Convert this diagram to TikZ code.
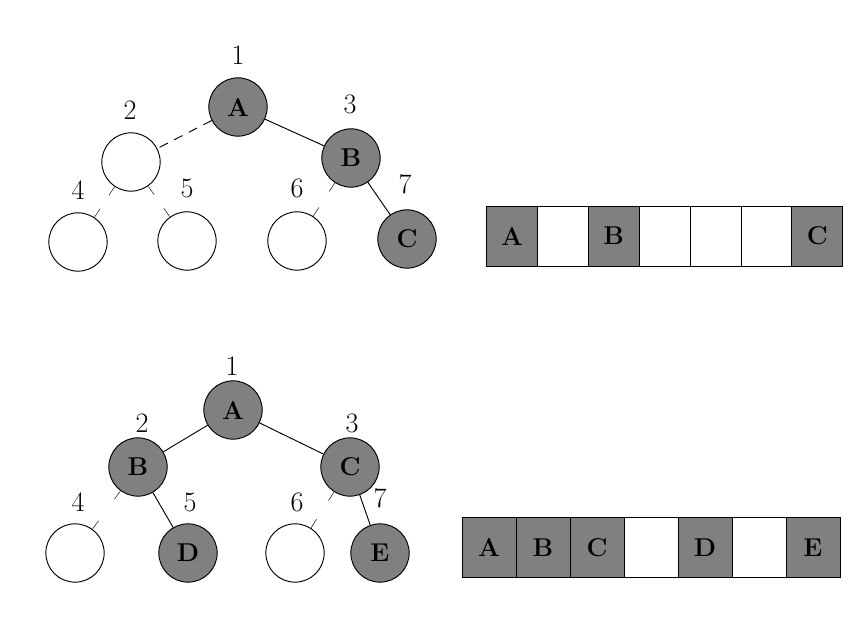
\documentclass[tikz,border=0pt]{standalone}
\usetikzlibrary{calc}
\newcommand\stub[2]{%
  \draw ($(#1)!0.9cm!(#2)$) -- ($(#1)!1.2cm!(#2)$);
  \draw ($(#2)!0.9cm!(#1)$) -- ($(#2)!1.2cm!(#1)$);}
\begin{document}
\begin{tikzpicture}[x=0.03cm,y=-0.03cm,
    knoop/.style={circle, draw, thick, minimum size=1.75cm, inner sep=0pt, font=\fontsize{22}{24}\selectfont\bfseries},
    vol/.style={fill=black!50},
    cel/.style={draw, thick, minimum height=1.8cm, minimum width=1.53cm, inner sep=0pt, font=\fontsize{22}{24}\selectfont\bfseries},
    num/.style={font=\fontsize{24}{26}\selectfont}
    ]
\useasboundingbox (0,0) rectangle (858,628);

% upper tree
\node[knoop,vol] (a1) at (238,107) {A};
\node[knoop] (e2) at (131,162) {};
\node[knoop,vol] (b1) at (351,158) {B};
\node[knoop] (e4) at (78,242) {};
\node[knoop] (e5) at (187,241) {};
\node[knoop] (e6) at (297,241) {};
\node[knoop,vol] (c1) at (407,239) {C};
\draw[thick, dashed, dash pattern=on 8pt off 6pt] (a1) -- (e2);
\draw[thick] (a1) -- (b1);
\draw[thick] (b1) -- (c1);
\stub{e2}{e4}
\stub{e2}{e5}
\stub{b1}{e6}
\foreach \t/\x/\y in {1/238/55, 2/130/110, 3/350/104, 4/78/190, 5/187/188, 6/297/188, 7/405/184}
  \node[num] (u\t) at (\x,\y) {\t};

% upper array
\foreach \l [count=\i from 0] in {A,,B,,,,C} {
  \ifx\l\empty
    \node[cel] (ur\i) at (512+50.9*\i,236) {};
  \else
    \node[cel,vol] (ur\i) at (512+50.9*\i,236) {\l};
  \fi
}

% lower tree
\node[knoop,vol] (a2) at (233,410) {A};
\node[knoop,vol] (b2) at (138,467) {B};
\node[knoop,vol] (c2) at (350,467) {C};
\node[knoop] (f4) at (75,553) {};
\node[knoop,vol] (d2) at (188,553) {D};
\node[knoop] (f6) at (295,553) {};
\node[knoop,vol] (e2b) at (380,553) {E};
\draw[thick] (a2) -- (b2);
\draw[thick] (a2) -- (c2);
\draw[thick] (b2) -- (d2);
\draw[thick] (c2) -- (e2b);
\stub{b2}{f4}
\stub{c2}{f6}
\foreach \t/\x/\y in {1/232/366, 2/142/423, 3/352/423, 4/78/502, 5/190/502, 6/297/502, 7/380/498}
  \node[num] (l\t) at (\x,\y) {\t};

% lower array
\foreach \l [count=\i from 0] in {A,B,C,,D,,E} {
  \ifx\l\empty
    \node[cel,minimum width=1.62cm] (lr\i) at (489+54*\i,547.5) {};
  \else
    \node[cel,vol,minimum width=1.62cm] (lr\i) at (489+54*\i,547.5) {\l};
  \fi
}
\end{tikzpicture}
\end{document}
